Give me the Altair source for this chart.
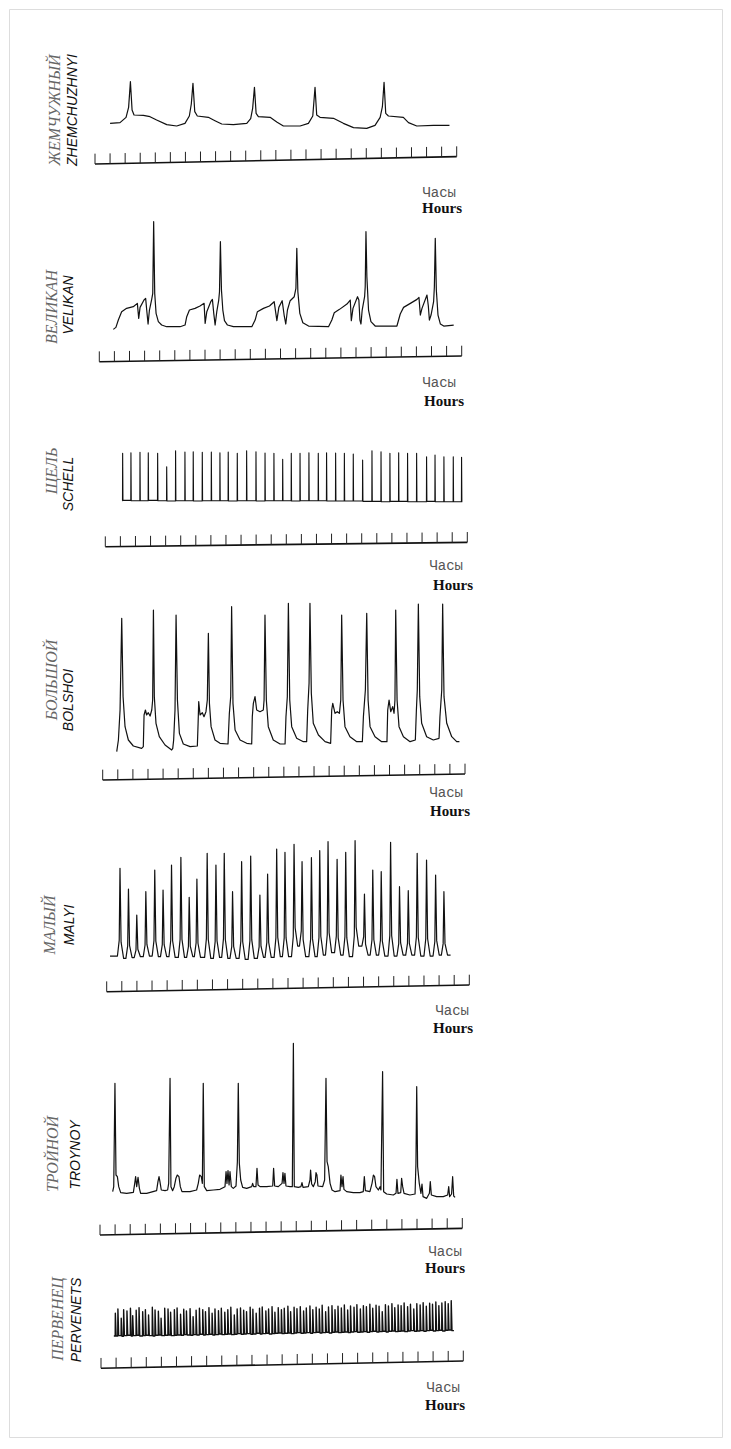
import altair as alt
import pandas as pd

# ------------------------------------------------------------------
# Data (time in hours, level in relative units)
# ------------------------------------------------------------------
HOUR_TICKS = list(range(25))

ZHEM_T = [1.00, 1.66, 2.06, 2.23, 2.35, 2.46, 2.59, 3.21, 3.65, 4.09, 4.76, 5.42, 5.97, 6.26, 6.39, 6.50,
          6.62, 6.79, 7.52, 7.96, 8.41, 9.18, 10.07, 10.33, 10.46, 10.58, 10.69, 10.84, 11.62, 12.06, 12.50,
          13.61, 14.16, 14.45, 14.60, 14.71, 14.93, 15.82, 16.48, 17.15, 18.03, 18.58, 18.92, 19.07, 19.18,
          19.29, 19.47, 20.46, 20.80, 21.35, 22.46, 23.52]
ZHEM_V = [122, 124, 140, 170, 247, 162, 147, 146, 142, 132, 118, 114, 122, 144, 180, 242,
          157, 144, 140, 130, 120, 118, 122, 136, 167, 230, 152, 142, 140, 126, 114,
          114, 122, 144, 230, 147, 140, 137, 122, 109, 107, 116, 140, 172, 245,
          152, 144, 140, 124, 114, 116, 116]

VELI_T = [0.93, 1.10, 1.26, 1.48, 1.81, 2.25, 2.52, 2.61, 2.70, 2.96, 3.07, 3.14, 3.23, 3.32, 3.47, 3.54,
          3.60, 3.67, 3.76, 3.91, 4.13, 4.46, 5.35, 5.68,
          5.79, 5.97, 6.34, 6.67, 6.94, 7.01, 7.12, 7.38, 7.49, 7.58, 7.67, 7.78, 7.91, 7.96, 8.02, 8.09,
          8.18, 8.29, 8.49, 8.88, 10.10,
          10.32, 10.47, 10.87, 11.27, 11.58, 11.76, 11.89, 12.11, 12.24, 12.35, 12.46, 12.64, 12.91, 13.02,
          13.08, 13.15, 13.28, 13.48, 13.86, 15.18,
          15.40, 15.56, 15.91, 16.40, 16.62, 16.69, 16.80, 17.10, 17.19, 17.26, 17.33, 17.41, 17.57, 17.61,
          17.66, 17.72, 17.83, 17.99, 18.27, 19.71,
          19.93, 20.15, 20.60, 21.04, 21.17, 21.26, 21.37, 21.70, 21.79, 21.86, 21.97, 22.14, 22.19, 22.25,
          22.32, 22.43, 22.59, 22.81, 23.47]
VELI_V = [97, 103, 125, 150, 160, 165, 175, 130, 163, 185, 190, 155, 113, 155, 187, 205,
          420, 205, 145, 120, 110, 105, 105, 110,
          135, 155, 160, 167, 175, 115, 150, 180, 187, 145, 110, 150, 185, 210, 360, 215,
          155, 123, 110, 105, 105,
          125, 150, 160, 167, 180, 123, 163, 183, 140, 113, 155, 183, 195, 220,
          340, 210, 145, 117, 107, 105,
          125, 147, 157, 173, 185, 123, 160, 195, 185, 125, 113, 155, 195, 225,
          390, 255, 155, 120, 107, 107,
          143, 163, 175, 187, 193, 140, 160, 200, 167, 125, 140, 180, 225, 370,
          215, 140, 113, 107, 110]

SCHELL_T = [1.15, 1.70, 2.30, 2.85, 3.47, 4.07, 4.66, 5.28, 5.83, 6.43, 7.03, 7.60, 8.15, 8.75, 9.37,
            9.99, 10.59, 11.18, 11.76, 12.33, 12.91, 13.50, 14.12, 14.67, 15.27, 15.85, 16.44, 17.06,
            17.68, 18.28, 18.87, 19.45, 20.04, 20.64, 21.30, 21.86, 22.45, 23.07, 23.62]
SCHELL_TOP = [280, 282, 283, 282, 280, 240, 288, 284, 285, 283, 284, 282, 284, 280, 288,
              285, 281, 280, 262, 280, 280, 282, 280, 282, 281, 280, 278, 260,
              288, 285, 280, 282, 280, 280, 270, 275, 270, 270, 268]
SCHELL_BASE = [138, 139, 138, 138, 139, 138, 137, 138, 138, 137, 138, 138, 138, 137, 138, 138,
               137, 138, 138, 138, 137, 138, 138, 138, 137, 137, 137, 137, 136, 136, 135,
               136, 136, 135, 135, 136, 135, 135, 135, 135]

BOLS_T = [0.93, 1.04, 1.15, 1.26, 1.35, 1.48, 1.70, 2.03, 2.58, 2.69,
          2.74, 2.83, 2.91, 3.02, 3.14, 3.25, 3.31, 3.36, 3.42, 3.53,
          3.75, 4.13, 4.57, 4.64, 4.70, 4.79, 4.86, 4.95, 5.08, 5.34,
          5.79, 6.27, 6.32, 6.36, 6.45, 6.60, 6.71, 6.84, 6.93, 7.00,
          7.07, 7.18, 7.44, 7.77, 8.30, 8.39, 8.48, 8.54, 8.63, 8.77,
          9.10, 9.54, 9.87, 9.91, 9.98, 10.09, 10.20, 10.42, 10.64, 10.69,
          10.75, 10.84, 10.97, 11.30, 11.75, 12.08, 12.14, 12.23, 12.30, 12.39,
          12.52, 12.85, 13.29, 13.51, 13.58, 13.67, 13.73, 13.82, 13.95, 14.29,
          14.73, 15.10, 15.17, 15.24, 15.39, 15.54, 15.68, 15.77, 15.83, 15.92,
          16.05, 16.38, 16.83, 17.20, 17.27, 17.40, 17.49, 17.58, 17.71, 18.04,
          18.48, 18.83, 18.88, 18.97, 19.08, 19.21, 19.30, 19.36, 19.41, 19.50,
          19.63, 19.92, 20.36, 20.71, 20.78, 20.84, 20.91, 21.00, 21.13, 21.46,
          21.90, 22.28, 22.34, 22.46, 22.52, 22.61, 22.79, 23.12, 23.45, 23.63]
BOLS_V = [85, 120, 210, 485, 250, 160, 120, 102, 95, 100,
          195, 210, 195, 202, 192, 210, 240, 510, 250, 170,
          130, 105, 90, 95, 120, 210, 495, 240, 140, 108,
          100, 102, 170, 235, 195, 202, 190, 205, 240, 440,
          230, 160, 120, 110, 108, 200, 250, 520, 230, 150,
          120, 110, 108, 190, 230, 250, 210, 205, 210, 240,
          495, 240, 160, 120, 108, 108, 190, 250, 530, 240,
          160, 125, 115, 115, 210, 290, 530, 260, 170, 135,
          115, 110, 210, 230, 200, 205, 200, 240, 495, 240,
          160, 130, 115, 115, 190, 270, 500, 240, 160, 130,
          115, 115, 210, 240, 205, 220, 200, 240, 510, 240,
          160, 130, 115, 120, 210, 270, 528, 250, 170, 130,
          120, 125, 190, 270, 528, 250, 170, 130, 115, 115]

MALYI_PEAK_T = [0.88, 1.44, 1.99, 2.59, 3.18, 3.73, 4.29, 4.91, 5.46, 5.97, 6.65, 7.23, 7.78, 8.33,
                8.93, 9.53, 10.14, 10.65, 11.25, 11.80, 12.40, 12.93, 13.55, 14.10, 14.65, 15.25,
                15.82, 16.44, 17.06, 17.61, 18.17, 18.79, 19.38, 19.96, 20.55, 21.17, 21.77, 22.32]
MALYI_PEAK_V = [370, 308, 230, 300, 365, 305, 380, 403, 283, 338, 415, 380, 415, 300,
                390, 407, 290, 353, 428, 418, 442, 390, 402, 423, 450, 397,
                418, 453, 293, 365, 360, 448, 315, 303, 415, 395, 350, 300]
MALYI_TROUGH = [107, 100, 102, 105, 107, 105, 105, 103, 103, 105, 103, 100, 103, 100, 100, 97,
                100, 103, 103, 105, 105, 137, 105, 105, 110, 117, 110, 105, 137, 110, 110,
                107, 107, 110, 110, 107, 107, 110, 110]

TROY_T = [0.84, 0.91, 0.99, 1.06, 1.15, 1.24, 1.37, 1.77, 2.21, 2.30,
          2.36, 2.43, 2.52, 2.61, 2.69, 3.09, 3.75, 3.84, 3.91, 3.97,
          4.06, 4.31, 4.48, 4.55, 4.64, 4.70, 4.81, 4.92, 5.03, 5.12,
          5.23, 5.32, 5.43, 5.96, 6.40, 6.51, 6.60, 6.71, 6.78, 6.84,
          6.91, 7.07, 7.51, 7.95, 8.28, 8.35, 8.41, 8.48, 8.55, 8.61,
          8.70, 8.83, 9.01, 9.10, 9.16, 9.23, 9.32, 9.45, 9.72, 10.05,
          10.11, 10.18, 10.33, 10.40, 10.47, 10.60, 11.04, 11.44, 11.50, 11.57,
          11.81, 12.06, 12.12, 12.19, 12.25, 12.32, 12.59, 12.74, 12.81, 12.87,
          13.14, 13.31, 13.38, 13.45, 13.80, 13.91, 13.95, 14.02, 14.13, 14.26,
          14.31, 14.37, 14.44, 14.75, 14.88, 14.97, 15.04, 15.12, 15.24, 15.37,
          15.57, 15.90, 15.96, 16.03, 16.10, 16.16, 16.34, 16.78, 17.22, 17.44,
          17.51, 17.58, 17.88, 18.02, 18.11, 18.19, 18.28, 18.44, 18.55, 18.61,
          18.72, 18.79, 18.99, 19.43, 19.61, 19.67, 19.74, 19.92, 19.98, 20.05,
          20.14, 20.53, 20.87, 20.93, 20.98, 21.04, 21.15, 21.26, 21.33, 21.40,
          21.64, 21.82, 21.88, 21.95, 22.30, 22.74, 23.03, 23.10, 23.16, 23.29,
          23.36, 23.43, 23.52]
TROY_V = [130, 145, 455, 180, 175, 145, 127, 125, 128, 155,
          175, 145, 173, 140, 125, 125, 133, 160, 175, 160,
          135, 133, 135, 155, 470, 145, 133, 145, 170, 180,
          175, 145, 130, 130, 135, 155, 180, 175, 155, 455,
          145, 133, 135, 137, 145, 190, 155, 193, 150, 190,
          145, 140, 147, 220, 455, 215, 165, 143, 140, 145,
          155, 145, 145, 200, 150, 145, 145, 147, 200, 147,
          145, 155, 187, 155, 185, 147, 145, 145, 575, 145,
          143, 145, 157, 143, 145, 165, 195, 153, 145, 160,
          187, 180, 147, 145, 165, 470, 220, 205, 155, 135,
          130, 133, 180, 145, 175, 137, 130, 127, 127, 130,
          175, 133, 130, 155, 180, 175, 145, 135, 145, 135,
          490, 130, 123, 120, 125, 167, 125, 127, 170, 145,
          125, 120, 123, 215, 445, 205, 155, 125, 153, 115,
          110, 125, 160, 120, 115, 115, 120, 145, 115, 123,
          175, 117, 113]

PERV_T = [0.95, 1.12, 1.34, 1.50, 1.72, 1.95, 2.10, 2.33, 2.52, 2.76,
          2.94, 3.15, 3.40, 3.58, 3.80, 3.98, 4.22, 4.44, 4.61, 4.86,
          5.04, 5.27, 5.48, 5.66, 5.90, 6.10, 6.30, 6.52, 6.74, 6.92,
          7.15, 7.36, 7.55, 7.78, 7.97, 8.20, 8.40, 8.60, 8.83, 9.02,
          9.24, 9.45, 9.64, 9.88, 10.06, 10.28, 10.50, 10.68, 10.92, 11.10,
          11.33, 11.52, 11.74, 11.95, 12.14, 12.38, 12.56, 12.79, 12.98, 13.20,
          13.42, 13.60, 13.84, 14.03, 14.25, 14.46, 14.65, 14.88, 15.07, 15.30,
          15.50, 15.70, 15.92, 16.12, 16.34, 16.53, 16.76, 16.95, 17.18, 17.38,
          17.58, 17.81, 18.00, 18.22, 18.42, 18.63, 18.84, 19.04, 19.27, 19.46,
          19.68, 19.88, 20.08, 20.31, 20.50, 20.72, 20.92, 21.14, 21.34, 21.55,
          21.77, 21.96, 22.18, 22.38, 22.58, 22.80, 23.00, 23.20]
PERV_TOP = [165, 178, 150, 176, 172, 180, 158, 174, 182, 170,
            176, 160, 183, 175, 171, 150, 180, 178, 168, 176,
            181, 162, 177, 172, 179, 155, 174, 180, 176, 170,
            182, 165, 178, 173, 180, 168, 176, 183, 160, 178,
            181, 174, 170, 183, 177, 165, 180, 184, 172, 178,
            185, 168, 182, 176, 180, 186, 170, 183, 179, 185,
            172, 181, 187, 176, 183, 178, 189, 170, 184, 188,
            176, 186, 181, 190, 175, 187, 183, 191, 178, 188,
            185, 192, 180, 189, 186, 170, 191, 187, 194, 182,
            190, 188, 196, 185, 192, 178, 194, 190, 197, 186,
            195, 192, 199, 188, 196, 200, 194, 203]
PERV_BASE = [97,
             97, 98, 96, 98, 99, 97, 98, 99, 97, 98,
             99, 98, 97, 99, 100, 98, 99, 100, 98, 99,
             100, 99, 101, 100, 99, 101, 100, 102, 100, 101,
             102, 100, 101, 103, 101, 102, 103, 101, 102, 104,
             102, 103, 104, 102, 103, 105, 103, 104, 105, 103,
             104, 105, 106, 104, 105, 106, 104, 106, 107, 105,
             106, 107, 105, 107, 108, 106, 107, 108, 106, 108,
             109, 107, 108, 109, 107, 109, 110, 108, 109, 110,
             108, 110, 111, 109, 110, 111, 109, 111, 112, 110,
             111, 112, 110, 112, 113, 111, 112, 113, 111, 113,
             114, 112, 113, 114, 112, 114, 115, 113]

NAMES_RU = ["ЖЕМЧУЖНЫЙ", "ВЕЛИКАН", "ЩЕЛЬ", "БОЛЬШОЙ", "МАЛЫЙ", "ТРОЙНОЙ", "ПЕРВЕНЕЦ"]
NAMES_EN = ["ZHEMCHUZHNYI", "VELIKAN", "SCHELL", "BOLSHOI", "MALYI", "TROYNOY", "PERVENETS"]
UNIT_RU = "Часы"
UNIT_EN = "Hours"


def spike_train(t0, t_end, times, tops, levels, rise, fall, knee=None):
    """Polyline through read spike events: level before, top, level after.
    knee = (time fraction, height fraction) gives the spike concave flanks."""
    ts, vs = [t0], [levels[0]]
    for k, (t, top) in enumerate(zip(times, tops)):
        lo_b, lo_a = levels[k], levels[k + 1]
        ts.append(t - rise)
        vs.append(lo_b)
        if knee:
            ts.append(t - rise * knee[0])
            vs.append(lo_b + (top - lo_b) * knee[1])
        ts.append(t)
        vs.append(top)
        if knee:
            ts.append(t + fall * knee[0])
            vs.append(lo_a + (top - lo_a) * knee[1])
        ts.append(t + fall)
        vs.append(lo_a)
    ts.append(t_end)
    vs.append(levels[-1])
    return ts, vs


SCH_T, SCH_V = spike_train(1.13, 23.67, SCHELL_T, SCHELL_TOP, SCHELL_BASE, 0.01, 0.02)
MAL_T, MAL_V = spike_train(0.22, 22.76, MALYI_PEAK_T, MALYI_PEAK_V, MALYI_TROUGH, 0.17, 0.24, knee=(0.3, 0.18))
PER_T, PER_V = spike_train(0.85, 23.38, PERV_T, PERV_TOP, PERV_BASE, 0.01, 0.05)

TRACES = [(ZHEM_T, ZHEM_V), (VELI_T, VELI_V), (SCH_T, SCH_V), (BOLS_T, BOLS_V),
          (MAL_T, MAL_V), (TROY_T, TROY_V), (PER_T, PER_V)]

# ------------------------------------------------------------------
# Layout (page pixels)
# ------------------------------------------------------------------
W, H = 713, 1428
PAD = 1
OX, OY = 8 + PAD, 8 + PAD
UNITS_PER_PX = 3.0
TICK_LEN = 31

LAYOUT = [
    dict(x0=95.0, x24=456.7, refy=164.0, tilt=22, lw=1.2, ru=(55, 110), en=(73, 110), ch=(456, 193), hr=(462, 208)),
    dict(x0=99.3, x24=461.7, refy=361.7, tilt=17, lw=1.2, ru=(52, 307), en=(69, 305), ch=(456, 383), hr=(464, 401)),
    dict(x0=105.3, x24=467.3, refy=546.7, tilt=13, lw=1.1, ru=(52, 471), en=(69, 484), ch=(463, 566), hr=(473, 585)),
    dict(x0=102.7, x24=465.0, refy=780.0, tilt=18, lw=1.2, ru=(52, 680), en=(69, 700), ch=(463, 793), hr=(470, 811)),
    dict(x0=106.7, x24=469.3, refy=991.7, tilt=20, lw=1.2, ru=(50, 925), en=(70, 925), ch=(469, 1011), hr=(473, 1028)),
    dict(x0=100.0, x24=462.3, refy=1235.0, tilt=20, lw=1.2, ru=(53, 1154), en=(76, 1155), ch=(462, 1252), hr=(465, 1268)),
    dict(x0=101.0, x24=463.3, refy=1368.3, tilt=22, lw=1.4, ru=(58, 1319), en=(77, 1320), ch=(460, 1388), hr=(465, 1405)),
]

INK = "#111111"
layers = []
for k, lay in enumerate(LAYOUT):
    tt, vv = TRACES[k]
    hpp = 24.0 / (lay["x24"] - lay["x0"])
    xdom = [(OX - lay["x0"]) * hpp, (OX + W - lay["x0"]) * hpp]
    ydom = [UNITS_PER_PX * (lay["refy"] - OY - H), UNITS_PER_PX * (lay["refy"] - OY)]
    xs = alt.Scale(domain=xdom, nice=False, zero=False)
    ys = alt.Scale(domain=ydom, nice=False, zero=False)

    df = pd.DataFrame({"t": tt, "v": vv, "i": list(range(len(tt)))})
    layers.append(
        alt.Chart(df).mark_line(color=INK, strokeWidth=lay["lw"], strokeJoin="round").encode(
            x=alt.X("t:Q", scale=xs, axis=None),
            y=alt.Y("v:Q", scale=ys, axis=None),
            order="i:Q",
        )
    )

    axis_df = pd.DataFrame({"t": [HOUR_TICKS[0], HOUR_TICKS[-1]], "v": [0, lay["tilt"]]})
    layers.append(
        alt.Chart(axis_df).mark_line(color=INK, strokeWidth=1.6).encode(
            x=alt.X("t:Q", scale=xs, axis=None),
            y=alt.Y("v:Q", scale=ys, axis=None),
        )
    )

    base = [lay["tilt"] * h / 24.0 for h in HOUR_TICKS]
    tick_df = pd.DataFrame({"t": HOUR_TICKS, "v": base, "v2": [b + TICK_LEN for b in base]})
    layers.append(
        alt.Chart(tick_df).mark_rule(color="#222222", strokeWidth=1).encode(
            x=alt.X("t:Q", scale=xs, axis=None),
            y=alt.Y("v:Q", scale=ys, axis=None),
            y2="v2:Q",
        )
    )

    def txt(s, xy, **kw):
        return alt.Chart(pd.DataFrame({"s": [s]})).mark_text(**kw).encode(
            text="s:N", x=alt.value(xy[0] - OX), y=alt.value(xy[1] - OY)
        )

    layers.append(txt(NAMES_RU[k], lay["ru"], font="Liberation Serif", fontStyle="italic",
                      fontSize=16, color="#666666", angle=270, align="center", baseline="middle"))
    layers.append(txt(NAMES_EN[k], lay["en"], font="Liberation Sans", fontStyle="italic",
                      fontSize=14, color=INK, angle=270, align="center", baseline="middle"))
    layers.append(txt(UNIT_RU, lay["ch"], font="Liberation Mono", fontSize=14, color="#555555",
                      align="right", baseline="middle"))
    layers.append(txt(UNIT_EN, lay["hr"], font="Liberation Serif", fontWeight="bold", fontSize=15,
                      color=INK, align="right", baseline="middle"))

chart = (
    alt.layer(*layers)
    .resolve_scale(x="independent", y="independent")
    .properties(width=W, height=H, padding=PAD, autosize=alt.AutoSizeParams(type="none"))
    .configure_view(stroke="#777777", strokeWidth=1)
    .configure(background="white")
)

chart.save("out.html", embed_options={"renderer": "svg", "actions": False})
